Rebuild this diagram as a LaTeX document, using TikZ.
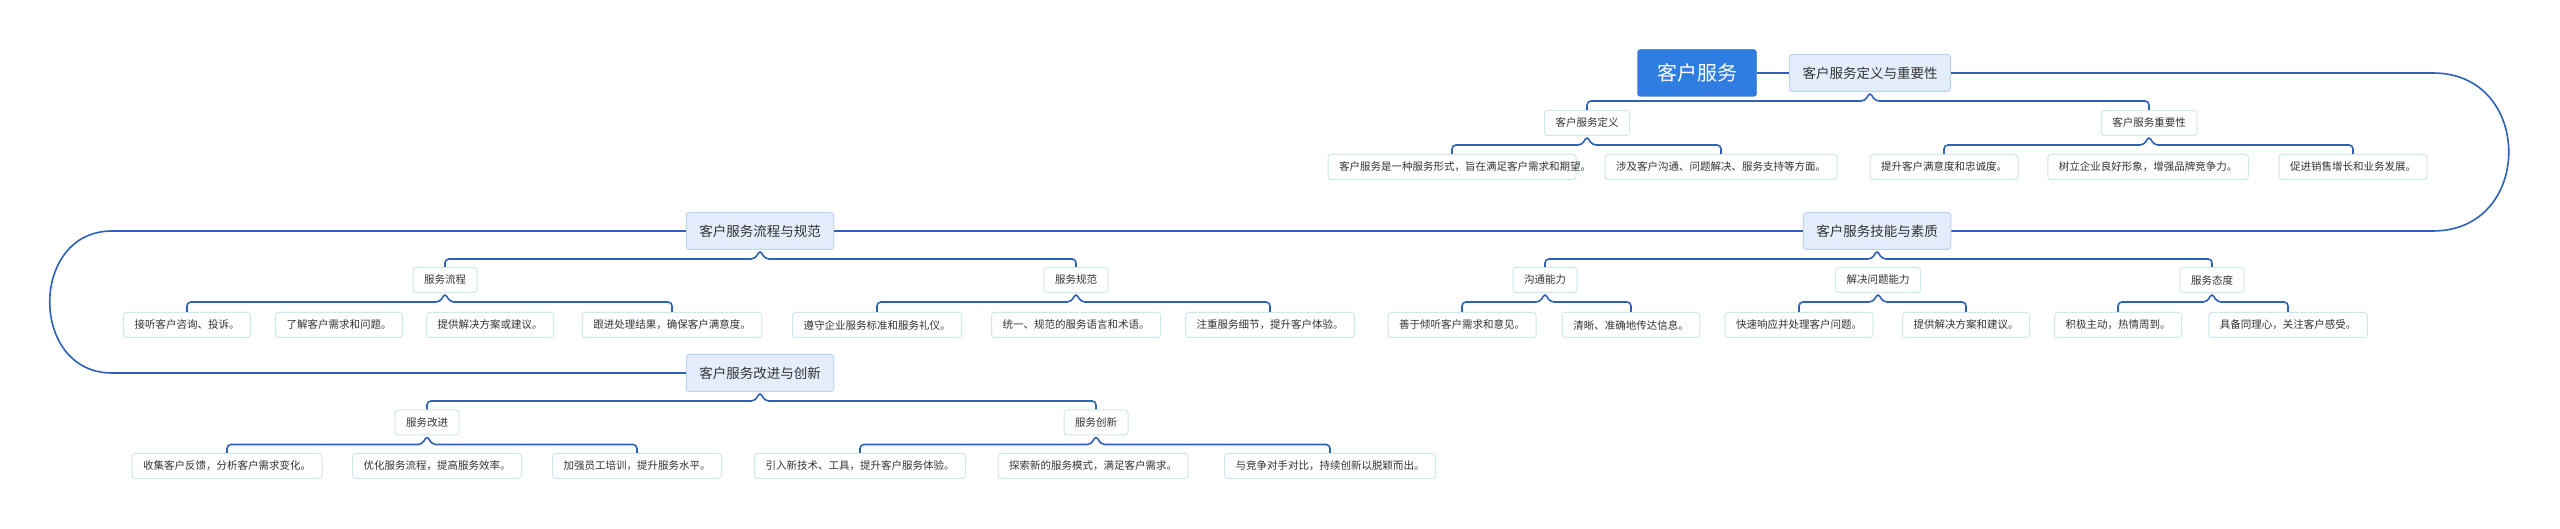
\documentclass[tikz,border=0pt]{standalone}
\usepackage{fontspec}
\setmainfont{Noto Sans CJK SC}
\usetikzlibrary{calc}
\definecolor{conn}{HTML}{2D62B8}
\definecolor{rootfill}{HTML}{2F7DE1}
\definecolor{lafill}{HTML}{E4EDFB}
\definecolor{ladraw}{HTML}{BCD2F2}
\definecolor{lfdraw}{HTML}{CFE6EE}
\definecolor{txt}{HTML}{333333}
\tikzset{
  rootbox/.style={draw=rootfill!80!black,fill=rootfill,rounded corners=3pt,text=white,font=\fontsize{20}{24}\selectfont,minimum width=119pt,minimum height=47pt,inner sep=0pt},
  mainbox/.style={draw=ladraw,line width=1pt,fill=lafill,rounded corners=3pt,text=txt,font=\fontsize{13.5}{16}\selectfont,minimum height=37pt,inner xsep=13pt,inner ysep=0pt},
  subbox/.style={draw=lfdraw,line width=1pt,fill=white,rounded corners=3pt,text=txt,font=\fontsize{10.5}{13}\selectfont,minimum height=25pt,inner xsep=11pt,inner ysep=0pt},
  leafbox/.style={subbox,anchor=north},
  cline/.style={draw=conn,line width=1.6pt},
}
\newcommand{\brk}[3]{\draw[cline,rounded corners=4pt] (#2.north) |- ($(#1.south)+(-5,-9)$) -- (#1.south) -- ($(#1.south)+(5,-9)$) -| (#3.north);}
\begin{document}
\begin{tikzpicture}[x=1pt,y=1pt]
\useasboundingbox (0,0) rectangle (2560,529);
\fill[white] (0,0) rectangle (2560,529);
% main nodes
\node[rootbox] (root) at (1697,456) {客户服务};
\node[mainbox] (ma) at (1870,456) {客户服务定义与重要性};
\node[mainbox] (mb) at (1877,298) {客户服务技能与素质};
\node[mainbox] (mc) at (760,298) {客户服务流程与规范};
\node[mainbox] (md) at (760,156) {客户服务改进与创新};
% sub nodes
\node[subbox] (a1) at (1587,406) {客户服务定义};
\node[subbox] (a2) at (2149,406) {客户服务重要性};
\node[subbox] (b1) at (1545,249) {沟通能力};
\node[subbox] (b2) at (1878,249) {解决问题能力};
\node[subbox] (b3) at (2212,249) {服务态度};
\node[subbox] (c1) at (445,249) {服务流程};
\node[subbox] (c2) at (1076,249) {服务规范};
\node[subbox] (d1) at (427,106.5) {服务改进};
\node[subbox] (d2) at (1096,106.5) {服务创新};
% leaves
\node[leafbox,text width=226pt,align=left,inner ysep=5pt] (a11) at (1452,375) {客户服务是一种服务形式，旨在满足客户需求和期望。};
\node[leafbox] (a12) at (1721,375) {涉及客户沟通、问题解决、服务支持等方面。};
\node[leafbox] (a21) at (1944,375) {提升客户满意度和忠诚度。};
\node[leafbox] (a22) at (2148,375) {树立企业良好形象，增强品牌竞争力。};
\node[leafbox] (a23) at (2353,375) {促进销售增长和业务发展。};
\node[leafbox] (b11) at (1462,217) {善于倾听客户需求和意见。};
\node[leafbox] (b12) at (1631,217) {清晰、准确地传达信息。};
\node[leafbox] (b21) at (1799,217) {快速响应并处理客户问题。};
\node[leafbox] (b22) at (1966,217) {提供解决方案和建议。};
\node[leafbox] (b31) at (2118,217) {积极主动，热情周到。};
\node[leafbox] (b32) at (2288,217) {具备同理心，关注客户感受。};
\node[leafbox] (c11) at (187,217) {接听客户咨询、投诉。};
\node[leafbox] (c12) at (339,217) {了解客户需求和问题。};
\node[leafbox] (c13) at (490,217) {提供解决方案或建议。};
\node[leafbox] (c14) at (672,217) {跟进处理结果，确保客户满意度。};
\node[leafbox] (c21) at (877,217) {遵守企业服务标准和服务礼仪。};
\node[leafbox] (c22) at (1076,217) {统一、规范的服务语言和术语。};
\node[leafbox] (c23) at (1270,217) {注重服务细节，提升客户体验。};
\node[leafbox] (d11) at (227,76) {收集客户反馈，分析客户需求变化。};
\node[leafbox] (d12) at (437,76) {优化服务流程，提高服务效率。};
\node[leafbox] (d13) at (637,76) {加强员工培训，提升服务水平。};
\node[leafbox] (d21) at (860,76) {引入新技术、工具，提升客户服务体验。};
\node[leafbox] (d22) at (1093,76) {探索新的服务模式，满足客户需求。};
\node[leafbox] (d23) at (1330,76) {与竞争对手对比，持续创新以脱颖而出。};
% spine
\coordinate (r1) at (2433,456);
\coordinate (r2) at (2433,298);
\coordinate (l1) at (112,298);
\coordinate (l2) at (112,156);
\draw[cline] (root.east) -- (ma.west);
\draw[cline] (ma.east) -- (r1) .. controls (2534,456) and (2534,298) .. (r2) -- (mb.east);
\draw[cline] (mb.west) -- (mc.east);
\draw[cline] (mc.west) -- (l1) .. controls (29,298) and (29,156) .. (l2) -- (md.west);
% brackets
\brk{ma}{a1}{a2}
\brk{a1}{a11}{a12}
\brk{a2}{a21}{a23}
\brk{mb}{b1}{b3}
\brk{b1}{b11}{b12}
\brk{b2}{b21}{b22}
\brk{b3}{b31}{b32}
\brk{mc}{c1}{c2}
\brk{c1}{c11}{c14}
\brk{c2}{c21}{c23}
\brk{md}{d1}{d2}
\brk{d1}{d11}{d13}
\brk{d2}{d21}{d23}
\end{tikzpicture}
\end{document}
